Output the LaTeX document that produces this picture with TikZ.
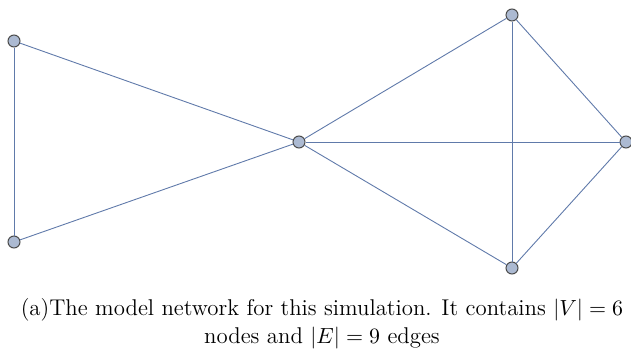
\documentclass[tikz,border=0pt]{standalone}
\begin{document}
\begin{tikzpicture}[x=0.5pt,y=-0.5pt,
  vert/.style={circle,draw=black!70,fill=nodefill,line width=0.5pt,inner sep=0pt,minimum size=6pt},
  edge/.style={draw=edgecol,line width=0.45pt}]
\definecolor{nodefill}{RGB}{172,186,210}
\definecolor{edgecol}{RGB}{96,122,170}
\useasboundingbox (0,0) rectangle (631,348);
\node[vert] (a) at (14,41) {};
\node[vert] (b) at (14,242) {};
\node[vert] (c) at (299,142) {};
\node[vert] (d) at (512,15) {};
\node[vert] (e) at (626,142) {};
\node[vert] (f) at (512,268) {};
\draw[edge] (a) -- (b);
\draw[edge] (a) -- (c);
\draw[edge] (b) -- (c);
\draw[edge] (c) -- (d);
\draw[edge] (c) -- (e);
\draw[edge] (c) -- (f);
\draw[edge] (d) -- (e);
\draw[edge] (d) -- (f);
\draw[edge] (e) -- (f);
\node[align=center,font=\fontsize{11.4}{14}\selectfont,inner sep=0pt,anchor=base] (cap) at (322,343)
  {(a)The model network for this simulation. It contains $|V|=6$\\ nodes and $|E|=9$ edges};
\end{tikzpicture}
\end{document}
